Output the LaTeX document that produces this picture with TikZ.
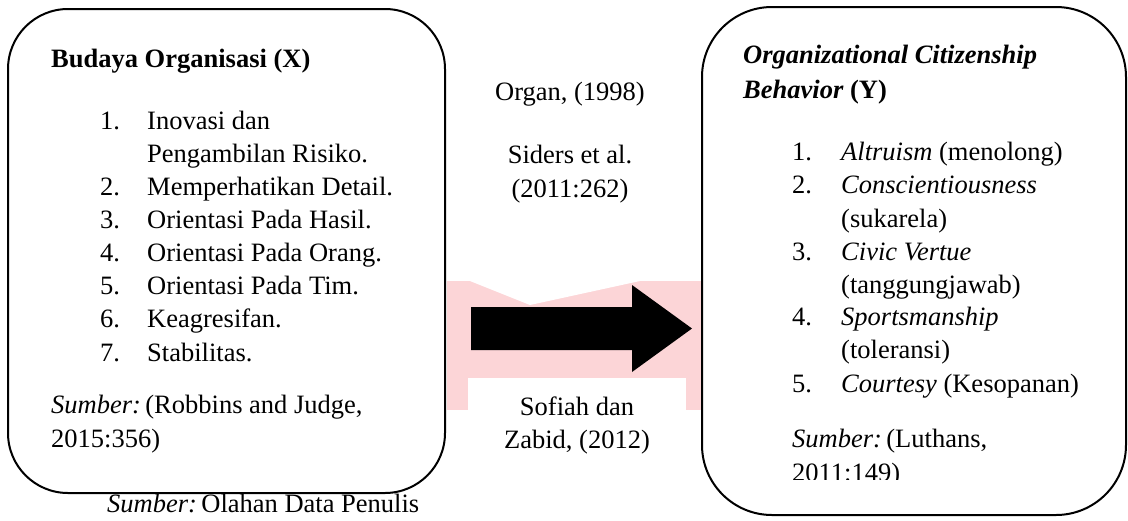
\documentclass[tikz,border=0pt]{standalone}
\usepackage{fontspec}
\setmainfont{Liberation Serif}
\definecolor{pinkwm}{RGB}{252,213,215}

\begin{document}
\begin{tikzpicture}[x=1pt, y=-1pt,
			kotak/.style={
				draw,
				line width = 2pt,
				rounded corners = 60pt,
				inner sep = 0pt},
			teks/.style={
				anchor = base west,
				inner sep = 0pt,
				font = \fontsize{26.5}{33}\selectfont},
			tengah/.style={
				anchor = base,
				inner sep = 0pt,
				font = \fontsize{26.5}{33}\selectfont}]
			\useasboundingbox (0, 0) rectangle (1128, 520);
			% watermark
			\fill[pinkwm] (447, 281) rectangle (701, 410);
			\fill[white] (468, 378) rectangle (686, 411);
			\fill[white] (470, 281) -- (530, 305) -- (640, 281) -- cycle;
			% kotak X
			\node[kotak, minimum width = 437pt, minimum height = 484pt] (boxX) at (226.5, 251) {};
			\node[teks] (judulX) at (51, 67) {\textbf{Budaya Organisasi (X)}};
			\node[teks] (nx1) at (100, 129) {1.};
			\node[teks] (x1) at (147, 129) {Inovasi dan};
			\node[teks] (x1b) at (147, 162) {Pengambilan Risiko.};
			\node[teks] (nx2) at (100, 195) {2.};
			\node[teks] (x2) at (147, 195) {Memperhatikan Detail.};
			\node[teks] (nx3) at (100, 228) {3.};
			\node[teks] (x3) at (147, 228) {Orientasi Pada Hasil.};
			\node[teks] (nx4) at (100, 261) {4.};
			\node[teks] (x4) at (147, 261) {Orientasi Pada Orang.};
			\node[teks] (nx5) at (100, 294) {5.};
			\node[teks] (x5) at (147, 294) {Orientasi Pada Tim.};
			\node[teks] (nx6) at (100, 327) {6.};
			\node[teks] (x6) at (147, 327) {Keagresifan.};
			\node[teks] (nx7) at (100, 361) {7.};
			\node[teks] (x7) at (147, 361) {Stabilitas.};
			\node[teks] (sumberX) at (51, 413) {\textit{Sumber:}\,(Robbins and Judge,};
			\node[teks] (sumberXb) at (51, 447) {2015:356)};
			\node[teks] (olahan) at (107, 512) {\textit{Sumber:}\,Olahan Data Penulis};
			% tengah
			\node[tengah] (organ) at (570, 100) {Organ, (1998)};
			\node[tengah] (siders) at (570, 163) {Siders et al.};
			\node[tengah] (siders2) at (570, 197) {(2011:262)};
			\node[tengah] (sofiah) at (577, 415) {Sofiah dan};
			\node[tengah] (zabid) at (577, 448) {Zabid, (2012)};
			\coordinate (ekor) at (471, 328.5);
			\coordinate (ujung) at (692, 328.5);
			\fill (ekor) ++(0, -21.5) -- ++(161, 0) -- ++(0, -22) -- (ujung)
				-- ++(-60, 43.5) -- ++(0, -22) -- ++(-161, 0) -- cycle;
			% kotak Y
			\node[kotak, rounded corners = 70pt, minimum width = 424pt, minimum height = 508pt] (boxY) at (914, 261) {};
			\node[teks] (judulY) at (743, 63) {\textbf{\textit{Organizational Citizenship}}};
			\node[teks] (judulY2) at (743, 98) {\textbf{\textit{Behavior}} \textbf{(Y)}};
			\node[teks] (ny1) at (792, 160) {1.};
			\node[teks] (y1) at (841, 160) {\textit{Altruism} (menolong)};
			\node[teks] (ny2) at (792, 193) {2.};
			\node[teks] (y2) at (841, 193) {\textit{Conscientiousness}};
			\node[teks] (y2b) at (841, 227) {(sukarela)};
			\node[teks] (ny3) at (792, 260) {3.};
			\node[teks] (y3) at (841, 260) {\textit{Civic Vertue}};
			\node[teks] (y3b) at (841, 293) {(tanggungjawab)};
			\node[teks] (ny4) at (792, 325) {4.};
			\node[teks] (y4) at (841, 325) {\textit{Sportsmanship}};
			\node[teks] (y4b) at (841, 358) {(toleransi)};
			\node[teks] (ny5) at (792, 392) {5.};
			\node[teks] (y5) at (841, 392) {\textit{Courtesy} (Kesopanan)};
			\node[teks] (sumberY) at (792, 447) {\textit{Sumber:}\,(Luthans,};
			\begin{scope}
				\clip (700, 450) rectangle (1128, 479);
				\node[teks] (sumberYb) at (792, 481) {2011:149)};
			\end{scope}
\end{tikzpicture}
\end{document}
